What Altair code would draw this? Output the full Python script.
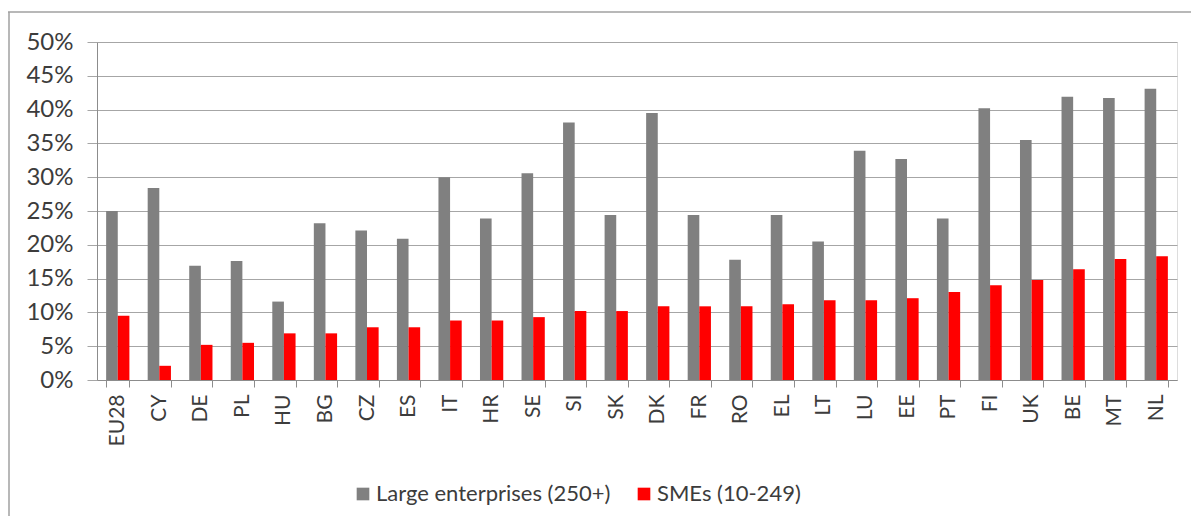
import altair as alt
import pandas as pd

countries = ["EU28", "CY", "DE", "PL", "HU", "BG", "CZ", "ES", "IT", "HR", "SE", "SI", "SK",
             "DK", "FR", "RO", "EL", "LT", "LU", "EE", "PT", "FI", "UK", "BE", "MT", "NL"]
large = [25.0, 28.4, 16.9, 17.6, 11.6, 23.2, 22.1, 20.9, 30.0, 23.9, 30.6, 38.1, 24.4,
         39.5, 24.4, 17.8, 24.4, 20.5, 33.9, 32.7, 23.9, 40.2, 35.5, 41.9, 41.7, 43.1]
smes = [9.5, 2.1, 5.2, 5.5, 6.9, 6.9, 7.8, 7.8, 8.8, 8.8, 9.3, 10.2, 10.2,
        10.9, 10.9, 10.9, 11.2, 11.8, 11.8, 12.1, 13.0, 14.0, 14.8, 16.4, 17.9, 18.3]
series = ["Large enterprises (250+)", "SMEs (10-249)"]
colors = ["#808080", "#ff0000"]
y_ticks = list(range(0, 55, 5))

rows = []
for c, l, s in zip(countries, large, smes):
    rows.append({"country": c, "series": series[0], "value": l})
    rows.append({"country": c, "series": series[1], "value": s})
df = pd.DataFrame(rows)

W, H = 1080, 338
FONT = "Lato"
TXT = "#3c3c3c"

bars = alt.Chart(df).mark_bar().encode(
    x=alt.X("country:N", sort=countries, title=None,
            scale=alt.Scale(paddingInner=0.44, paddingOuter=0.22),
            axis=alt.Axis(labelAngle=-90, tickBand="extent", tickSize=7,
                          tickColor="#8c8c8c", domainColor="#8c8c8c",
                          labelFont=FONT, labelFontSize=21, labelColor=TXT,
                          labelPadding=7, grid=False)),
    xOffset=alt.XOffset("series:N", sort=series),
    y=alt.Y("value:Q", title=None,
            scale=alt.Scale(domain=[0, 50], nice=False),
            axis=alt.Axis(values=y_ticks, labelExpr="datum.value + '%'",
                          tickSize=10, tickColor="#a6a6a6", domainColor="#8c8c8c",
                          gridColor="#a6a6a6", gridWidth=1.2,
                          labelFont=FONT, labelFontSize=24, labelColor=TXT,
                          labelPadding=14)),
    color=alt.Color("series:N", sort=series,
                    scale=alt.Scale(domain=series, range=colors),
                    legend=alt.Legend(title=None, orient="none", direction="horizontal",
                                      legendX=255, legendY=441,
                                      symbolType="square", symbolSize=160,
                                      symbolStrokeWidth=0, columnPadding=22,
                                      labelLimit=0,
                                      labelFont=FONT, labelFontSize=22, labelColor=TXT,
                                      labelOffset=2)),
)

frame_df = pd.DataFrame({"k": [0]})
top_line = alt.Chart(frame_df).mark_rule(color="#a0a0a0", strokeWidth=1.5).encode(
    x=alt.value(-89), x2=alt.value(W + 40), y=alt.value(-30))
left_line = alt.Chart(frame_df).mark_rule(color="#a0a0a0", strokeWidth=1.5).encode(
    x=alt.value(-88), y=alt.value(-30), y2=alt.value(H + 200))

chart = alt.layer(bars, top_line, left_line).properties(
    width=W, height=H,
    autosize=alt.AutoSizeParams(type="none"),
    padding={"left": 89, "top": 34, "right": 14, "bottom": 136},
).configure_view(stroke=None).configure(background="white")

chart.save("out.html", embed_options={"renderer": "svg", "actions": False})
